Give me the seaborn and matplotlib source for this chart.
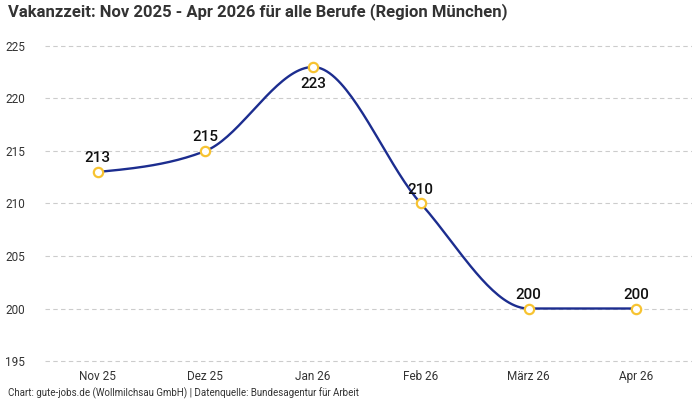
import numpy as np
import pandas as pd
import matplotlib
matplotlib.use("Agg")
import matplotlib.pyplot as plt
import seaborn as sns

# ------------------------------
# Dados
# ------------------------------
monate = ["Nov 25", "Dez 25", "Jan 26", "Feb 26", "März 26", "Apr 26"]
vakanzzeit = [213, 215, 223, 210, 200, 200]
label_unten = [False, False, True, False, False, False]   # 223 steht unter dem Punkt

titel = "Vakanzzeit: Nov 2025 - Apr 2026 für alle Berufe (Region München)"
quelle = "Chart: gute-jobs.de (Wollmilchsau GmbH) | Datenquelle: Bundesagentur für Arbeit"

LINIE = "#1c2d8f"
PUNKT = "#f7c331"


def monotone_x(x, y, n=40):
    # monotone kubische Kurve (wie d3.curveMonotoneX) – nur zum Zeichnen
    x = np.asarray(x, float)
    y = np.asarray(y, float)
    h = np.diff(x)
    s = np.diff(y) / h
    m = np.zeros_like(y)
    for i in range(1, len(y) - 1):
        if s[i - 1] * s[i] <= 0:
            m[i] = 0
        else:
            p = (s[i - 1] * h[i] + s[i] * h[i - 1]) / (h[i - 1] + h[i])
            m[i] = (np.sign(s[i - 1]) + np.sign(s[i])) * min(abs(s[i - 1]), abs(s[i]), 0.5 * abs(p))
    m[0] = (3 * s[0] - m[1]) / 2 if len(y) > 2 else s[0]
    m[-1] = (3 * s[-1] - m[-2]) / 2 if len(y) > 2 else s[-1]
    xs, ys = [], []
    for i in range(len(h)):
        t = np.linspace(0, 1, n)
        h00 = 2 * t**3 - 3 * t**2 + 1
        h10 = t**3 - 2 * t**2 + t
        h01 = -2 * t**3 + 3 * t**2
        h11 = t**3 - t**2
        xs.append(x[i] + t * h[i])
        ys.append(h00 * y[i] + h10 * h[i] * m[i] + h01 * y[i + 1] + h11 * h[i] * m[i + 1])
    return np.concatenate(xs), np.concatenate(ys)


df = pd.DataFrame({"pos": np.arange(len(monate)), "wert": vakanzzeit})
kx, ky = monotone_x(df["pos"], df["wert"])
kurve = pd.DataFrame({"pos": kx, "wert": ky})

# ------------------------------
# Plot
# ------------------------------
sns.set_style("white")
plt.rcParams["font.family"] = ["Roboto", "DejaVu Sans"]

fig = plt.figure(figsize=(7, 4), dpi=100)
ax = fig.add_axes([0.064, 0.0825, 0.925, 0.8175])

sns.lineplot(data=kurve, x="pos", y="wert", color=LINIE, linewidth=1.7,
             sort=False, ax=ax, zorder=3)
sns.scatterplot(data=df, x="pos", y="wert", color="white", edgecolor=PUNKT,
                linewidth=1.6, s=45, ax=ax, zorder=4)

for _, r in df.iterrows():
    unten = label_unten[int(r["pos"])]
    ax.annotate(f"{int(r['wert'])}", (r["pos"], r["wert"]),
                xytext=(0, -7 if unten else 5), textcoords="offset points",
                ha="center", va="top" if unten else "bottom",
                fontsize=11, fontweight="medium", color="#111111")

ax.set_xlim(-0.49, 5.52)
ax.set_ylim(194.43, 225.57)
ax.set_yticks([195, 200, 205, 210, 215, 220, 225])
ax.set_xticks(df["pos"])
ax.set_xticklabels(monate)
ax.set_xlabel("")
ax.set_ylabel("")
ax.grid(axis="y", color="#cccccc", linestyle=(0, (4, 3)), linewidth=0.8)
ax.set_axisbelow(True)
for sp in ax.spines.values():
    sp.set_visible(False)
ax.tick_params(axis="both", length=0, labelsize=8.5, colors="#333333")
ax.tick_params(axis="y", pad=14)
ax.tick_params(axis="x", pad=2)

fig.text(0.012, 0.993, titel, fontsize=12, fontweight="bold", color="#333333",
         ha="left", va="top")
fig.text(0.012, 0.017, quelle, fontsize=7, color="#333333", ha="left", va="center")

fig.savefig("out.png", dpi=100)
